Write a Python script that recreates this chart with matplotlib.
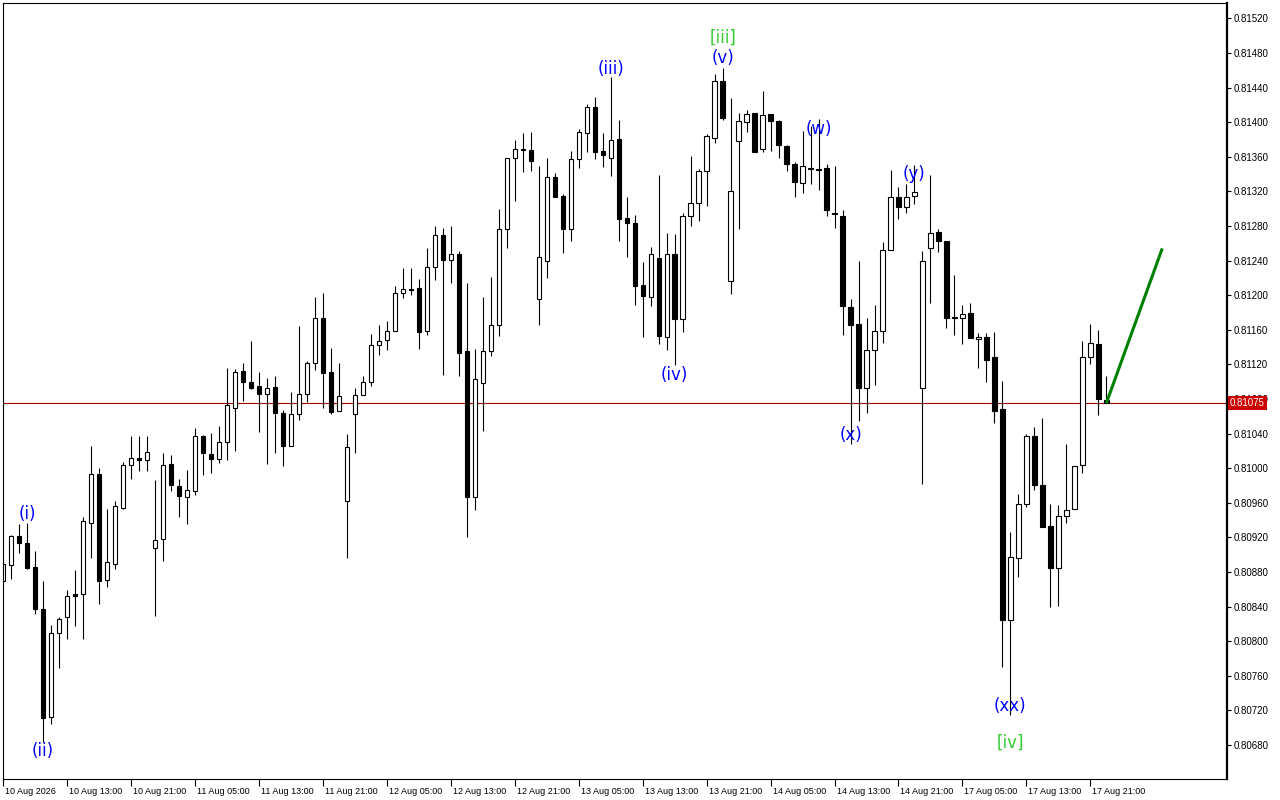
import numpy as np
import matplotlib
matplotlib.use("Agg")
import matplotlib.pyplot as plt
import matplotlib.transforms as mtransforms

# hourly OHLC, 10 Aug 05:00 .. 17 Aug 23:00
opens = [0.80870, 0.80888, 0.80921, 0.80913, 0.80886, 0.80837, 0.80712, 0.80809, 0.80828, 0.80854,
         0.80854, 0.80937, 0.80993, 0.80871, 0.80889, 0.80954, 0.81004, 0.81012, 0.81009, 0.80908,
         0.80918, 0.81005, 0.80979, 0.80967, 0.80974, 0.81037, 0.81016, 0.81011, 0.81030, 0.81070,
         0.81112, 0.81100, 0.81095, 0.81086, 0.81094, 0.81064, 0.81026, 0.81063, 0.81086, 0.81122,
         0.81173, 0.81111, 0.81066, 0.80962, 0.81063, 0.81084, 0.81099, 0.81142, 0.81148, 0.81159,
         0.81203, 0.81207, 0.81208, 0.81158, 0.81233, 0.81270, 0.81241, 0.81248, 0.81135, 0.80967,
         0.81098, 0.81135, 0.81166, 0.81276, 0.81358, 0.81369, 0.81368, 0.81195, 0.81239, 0.81336,
         0.81315, 0.81277, 0.81357, 0.81387, 0.81417, 0.81367, 0.81358, 0.81380, 0.81289, 0.81283,
         0.81212, 0.81198, 0.81243, 0.81152, 0.81248, 0.81172, 0.81291, 0.81307, 0.81343, 0.81382,
         0.81447, 0.81216, 0.81378, 0.81400, 0.81410, 0.81369, 0.81409, 0.81401, 0.81372, 0.81352,
         0.81330, 0.81347, 0.81346, 0.81347, 0.81295, 0.81292, 0.81186, 0.81167, 0.81093, 0.81137,
         0.81158, 0.81252, 0.81314, 0.81302, 0.81315, 0.81093, 0.81254, 0.81273, 0.81262, 0.81174,
         0.81173, 0.81179, 0.81149, 0.81151, 0.81128, 0.81068, 0.80824, 0.80896, 0.80958, 0.81037,
         0.80981, 0.80933, 0.80885, 0.80945, 0.80953, 0.81004, 0.81129, 0.81144, 0.81079]
highs = [0.80894, 0.80923, 0.80935, 0.80937, 0.80904, 0.80869, 0.80819, 0.80828, 0.80859, 0.80882,
         0.80944, 0.81025, 0.81000, 0.80953, 0.80962, 0.81007, 0.81037, 0.81037, 0.81037, 0.80986,
         0.81017, 0.81015, 0.80987, 0.80998, 0.81046, 0.81038, 0.81041, 0.81049, 0.81116, 0.81115,
         0.81121, 0.81147, 0.81111, 0.81104, 0.81106, 0.81067, 0.81088, 0.81164, 0.81124, 0.81198,
         0.81202, 0.81139, 0.81121, 0.81040, 0.81093, 0.81107, 0.81155, 0.81166, 0.81170, 0.81210,
         0.81231, 0.81231, 0.81219, 0.81255, 0.81280, 0.81278, 0.81280, 0.81251, 0.81214, 0.81138,
         0.81198, 0.81221, 0.81300, 0.81358, 0.81379, 0.81387, 0.81389, 0.81349, 0.81358, 0.81341,
         0.81317, 0.81367, 0.81392, 0.81421, 0.81429, 0.81387, 0.81452, 0.81403, 0.81313, 0.81293,
         0.81238, 0.81256, 0.81339, 0.81272, 0.81271, 0.81295, 0.81361, 0.81346, 0.81386, 0.81456,
         0.81463, 0.81428, 0.81410, 0.81414, 0.81411, 0.81436, 0.81409, 0.81403, 0.81374, 0.81354,
         0.81390, 0.81395, 0.81404, 0.81351, 0.81349, 0.81298, 0.81196, 0.81239, 0.81173, 0.81189,
         0.81261, 0.81345, 0.81325, 0.81328, 0.81350, 0.81251, 0.81339, 0.81277, 0.81263, 0.81223,
         0.81188, 0.81191, 0.81156, 0.81156, 0.81157, 0.81101, 0.80926, 0.80970, 0.81039, 0.81048,
         0.81058, 0.80959, 0.80957, 0.81028, 0.81002, 0.81147, 0.81167, 0.81160, 0.81107]
lows = [0.80867, 0.80872, 0.80902, 0.80883, 0.80831, 0.80683, 0.80704, 0.80769, 0.80802, 0.80817,
        0.80803, 0.80896, 0.80843, 0.80863, 0.80883, 0.80953, 0.80987, 0.80997, 0.80997, 0.80829,
        0.80893, 0.80974, 0.80944, 0.80935, 0.80969, 0.80992, 0.80994, 0.81006, 0.81009, 0.81020,
        0.81078, 0.81091, 0.81042, 0.81005, 0.81018, 0.81002, 0.81026, 0.81056, 0.81077, 0.81114,
        0.81069, 0.81063, 0.81066, 0.80896, 0.81018, 0.81084, 0.81095, 0.81131, 0.81137, 0.81159,
        0.81197, 0.81200, 0.81138, 0.81154, 0.81218, 0.81108, 0.81214, 0.81107, 0.80920, 0.80952,
        0.81043, 0.81130, 0.81153, 0.81255, 0.81309, 0.81342, 0.81344, 0.81165, 0.81220, 0.81314,
        0.81249, 0.81263, 0.81347, 0.81366, 0.81357, 0.81348, 0.81338, 0.81262, 0.81244, 0.81189,
        0.81151, 0.81187, 0.81144, 0.81137, 0.81119, 0.81157, 0.81280, 0.81286, 0.81303, 0.81376,
        0.81402, 0.81201, 0.81277, 0.81389, 0.81366, 0.81366, 0.81367, 0.81358, 0.81343, 0.81314,
        0.81318, 0.81328, 0.81321, 0.81292, 0.81278, 0.81154, 0.81028, 0.81054, 0.81064, 0.81096,
        0.81145, 0.81252, 0.81288, 0.81295, 0.81305, 0.80982, 0.81191, 0.81250, 0.81162, 0.81154,
        0.81144, 0.81150, 0.81116, 0.81099, 0.81052, 0.80770, 0.80715, 0.80874, 0.80955, 0.80975,
        0.80932, 0.80840, 0.80841, 0.80936, 0.80953, 0.80994, 0.81120, 0.81061, 0.81075]
closes = [0.80889, 0.80921, 0.80913, 0.80885, 0.80837, 0.80711, 0.80809, 0.80826, 0.80852, 0.80852,
          0.80939, 0.80993, 0.80870, 0.80891, 0.80956, 0.81004, 0.81012, 0.81009, 0.81019, 0.80917,
          0.81004, 0.80980, 0.80968, 0.80975, 0.81037, 0.81017, 0.81011, 0.81030, 0.81073, 0.81111,
          0.81099, 0.81093, 0.81086, 0.81093, 0.81064, 0.81026, 0.81063, 0.81086, 0.81122, 0.81174,
          0.81110, 0.81065, 0.81083, 0.81024, 0.81085, 0.81099, 0.81142, 0.81147, 0.81159, 0.81203,
          0.81207, 0.81206, 0.81157, 0.81233, 0.81270, 0.81241, 0.81247, 0.81133, 0.80967, 0.81103,
          0.81135, 0.81166, 0.81276, 0.81358, 0.81369, 0.81368, 0.81355, 0.81244, 0.81336, 0.81314,
          0.81277, 0.81357, 0.81389, 0.81417, 0.81366, 0.81362, 0.81379, 0.81288, 0.81283, 0.81211,
          0.81199, 0.81248, 0.81153, 0.81248, 0.81172, 0.81292, 0.81307, 0.81343, 0.81384, 0.81447,
          0.81405, 0.81320, 0.81401, 0.81409, 0.81366, 0.81408, 0.81401, 0.81373, 0.81351, 0.81331,
          0.81349, 0.81346, 0.81345, 0.81298, 0.81294, 0.81187, 0.81166, 0.81093, 0.81137, 0.81159,
          0.81252, 0.81314, 0.81302, 0.81314, 0.81319, 0.81240, 0.81272, 0.81262, 0.81174, 0.81173,
          0.81178, 0.81150, 0.81152, 0.81125, 0.81066, 0.80824, 0.80897, 0.80959, 0.81037, 0.80981,
          0.80932, 0.80885, 0.80945, 0.80952, 0.81002, 0.81129, 0.81145, 0.81080, 0.81075]

last_price = 0.81075

xlabels = ["10 Aug 2026", "10 Aug 13:00", "10 Aug 21:00", "11 Aug 05:00", "11 Aug 13:00",
           "11 Aug 21:00", "12 Aug 05:00", "12 Aug 13:00", "12 Aug 21:00", "13 Aug 05:00",
           "13 Aug 13:00", "13 Aug 21:00", "14 Aug 05:00", "14 Aug 13:00", "14 Aug 21:00",
           "17 Aug 05:00", "17 Aug 13:00", "17 Aug 21:00"]

# wave labels: text, bar index, price, colour
wave_text = ["(i)", "(ii)", "(iii)", "(iv)", "[iii]", "(v)", "(w)", "(x)", "(y)", "(xx)", "[iv]"]
wave_bar = [3, 4.9, 76, 84, 90, 90, 102, 106, 114, 126, 126]
wave_price = [0.80947, 0.80673, 0.81461, 0.81108, 0.81497, 0.81474, 0.81392, 0.81038, 0.81340, 0.80725, 0.80682]
wave_color = ["#0000ff"] * 4 + ["#33cc33"] + ["#0000ff"] * 5 + ["#33cc33"]

# projected move
proj_bar = [138, 145]
proj_price = [0.81075, 0.81254]

o = np.array(opens)
h = np.array(highs)
l = np.array(lows)
c = np.array(closes)
idx = np.arange(len(o))
up = c >= o

fig = plt.figure(figsize=(12.8, 8), dpi=100)
ax = fig.add_axes([2.5 / 1280, 21 / 800, 1224.5 / 1280, 776 / 800])

# wicks
ax.vlines(idx, l, h, color="black", lw=0.8, zorder=1)
# bodies
body_lo = np.minimum(o, c)
body_h = np.maximum(np.abs(c - o), 0.000012)
ax.bar(idx[up], body_h[up], bottom=body_lo[up], width=0.55, color="white",
       edgecolor="black", lw=0.8, zorder=2)
ax.bar(idx[~up], body_h[~up], bottom=body_lo[~up], width=0.55, color="black",
       edgecolor="black", lw=0.8, zorder=2)

# last price line
ax.axhline(last_price, color="#a00000", lw=0.8, zorder=0)

# wave labels
for t, xb, yp, col in zip(wave_text, wave_bar, wave_price, wave_color):
    ax.text(xb, yp, t, color=col, fontsize=12, ha="center", va="center", zorder=4)

# projection arrow line
ax.plot(proj_bar, proj_price, color="#008000", lw=2.2, solid_capstyle="butt", zorder=5)

ax.set_xlim(-0.1, 153.1)
ax.set_ylim(0.806406, 0.815377)

# axes styling
ax.yaxis.tick_right()
ax.set_yticks(np.arange(0.80680, 0.81521, 0.0004))
ax.set_yticklabels([f"{v:.5f}" for v in np.arange(0.80680, 0.81521, 0.0004)],
                   fontsize=7, family="Liberation Sans")
ax.tick_params(axis="y", direction="out", length=3, width=0.8, pad=2)

ax.set_xticks(np.arange(len(xlabels)) * 8)
ax.set_xticklabels(xlabels, fontsize=6.5, family="Liberation Sans")
ax.tick_params(axis="x", direction="out", length=5, width=0.8, pad=1)
offset = mtransforms.ScaledTranslation(2 / 100, 0, fig.dpi_scale_trans)
for lbl in ax.get_xticklabels():
    lbl.set_horizontalalignment("left")
    lbl.set_transform(lbl.get_transform() + offset)

for side in ["top", "left", "bottom"]:
    ax.spines[side].set_linewidth(0.8)
ax.spines["right"].set_linewidth(1.6)

# last price tag
ax.annotate(f"{last_price:.5f}", xy=(1.0025, last_price), xycoords=("axes fraction", "data"),
            ha="left", va="center", fontsize=7, family="Liberation Sans", color="white",
            bbox=dict(boxstyle="square,pad=0.2", fc="#cc0000", ec="none"),
            annotation_clip=False, zorder=10)

fig.savefig("out.png", dpi=100)
